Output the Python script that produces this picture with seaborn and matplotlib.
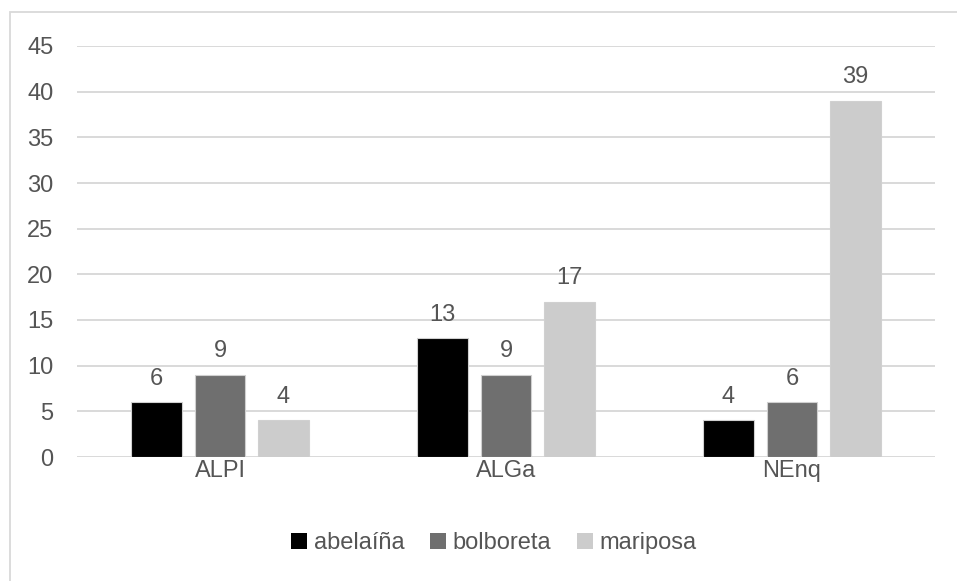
import matplotlib
matplotlib.use("Agg")
import matplotlib.pyplot as plt
from matplotlib.patches import Rectangle
import seaborn as sns
import pandas as pd

# Word counts per corpus
categories = ["ALPI", "ALGa", "NEnq"]
series_names = ["abelaíña", "bolboreta", "mariposa"]
abelaina = [6, 13, 4]
bolboreta = [9, 9, 6]
mariposa = [4, 17, 39]
y_ticks = [0, 5, 10, 15, 20, 25, 30, 35, 40, 45]

colors = ["#000000", "#6f6f6f", "#cccccc"]
text_color = "#555555"
grid_color = "#d9d9d9"
fs = 17

rows = []
for name, vals in zip(series_names, [abelaina, bolboreta, mariposa]):
    for cat, v in zip(categories, vals):
        rows.append({"corpus": cat, "termo": name, "valor": v})
df = pd.DataFrame(rows)

sns.set_theme(style="white")
plt.rcParams["font.family"] = ["Liberation Sans", "DejaVu Sans"]

W, H = 957, 581
fig = plt.figure(figsize=(W / 100, H / 100), dpi=100)
fig.patch.set_facecolor("white")

# chart frame
fig.patches.append(Rectangle((9.5 / W, -0.1), 1.2, 1 - 12.5 / H + 0.1,
                             transform=fig.transFigure, fill=False,
                             edgecolor="#d9d9d9", linewidth=1.3))

ax = fig.add_axes([77 / W, 1 - 457 / H, (935 - 77) / W, (457 - 46) / H])
sns.barplot(data=df, x="corpus", y="valor", hue="termo", order=categories,
            hue_order=series_names, palette=colors, width=0.666, gap=0.21,
            edgecolor="#d0d0d0", linewidth=0.8, saturation=1, ax=ax,
            errorbar=None)

ax.set_ylim(0, 45)
ax.set_yticks(y_ticks)
ax.set_xlim(-0.5, 2.5)
ax.grid(axis="y", color=grid_color, linewidth=1.4)
ax.set_axisbelow(True)
for s in ax.spines.values():
    s.set_visible(False)
ax.set_xlabel("")
ax.set_ylabel("")
ax.tick_params(axis="both", length=0, labelsize=fs, labelcolor=text_color)
ax.tick_params(axis="y", pad=17)
ax.tick_params(axis="x", pad=2)

for cont in ax.containers:
    ax.bar_label(cont, fmt="%d", padding=9, fontsize=fs, color=text_color)

leg = ax.legend(loc="center", bbox_to_anchor=(494 / W, 1 - 543 / H), bbox_transform=fig.transFigure,
                ncol=3, frameon=False, fontsize=fs, handlelength=0.65, handleheight=0.65,
                handletextpad=0.3, columnspacing=1.1)
for t in leg.get_texts():
    t.set_color(text_color)
for h in leg.legend_handles:
    h.set_edgecolor("none")

fig.savefig("out.png", dpi=100)
